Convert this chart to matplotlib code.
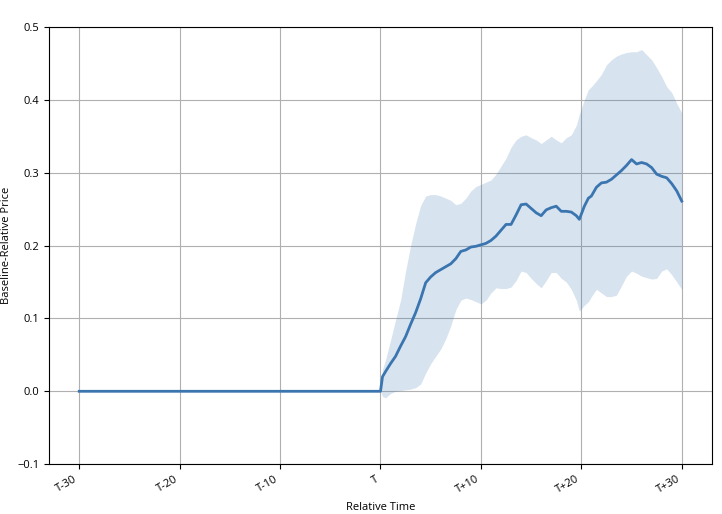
import numpy as np
import matplotlib.pyplot as plt

plt.rcParams['font.family'] = ['Open Sans', 'DejaVu Sans']

# ---------------- data ----------------
# flat baseline before the event
pre_t = [-30, -20, -10, 0]
pre_mean = [0.0, 0.0, 0.0, 0.0]

# after the event: mean and band
post_t = [0, 0.2, 0.5,
          1, 1.5, 2, 2.5, 3, 3.5, 4, 4.5, 5, 5.5,
          6, 6.5, 7, 7.5, 8, 8.5, 9, 9.5, 10, 10.5,
          11, 11.5, 12, 12.5, 13, 13.5, 14, 14.5, 15, 15.5,
          16, 16.5, 17, 17.5, 18, 18.5, 19, 19.5, 19.8, 20.3, 20.7,
          21, 21.5, 22, 22.5, 23, 23.5, 24, 24.5, 25, 25.5,
          26, 26.5, 27, 27.5, 28, 28.5, 29, 29.5, 30]
post_mean = [0.0, 0.02, 0.027,
             0.038, 0.048, 0.062, 0.075, 0.092, 0.108, 0.127, 0.149, 0.157, 0.163,
             0.167, 0.171, 0.175, 0.182, 0.192, 0.194, 0.198, 0.199, 0.201, 0.203,
             0.207, 0.213, 0.221, 0.229, 0.229, 0.242, 0.256, 0.257, 0.251, 0.245,
             0.241, 0.249, 0.252, 0.254, 0.247, 0.247, 0.246, 0.241, 0.236, 0.254, 0.265,
             0.268, 0.280, 0.286, 0.287, 0.291, 0.297, 0.303, 0.310, 0.318, 0.312,
             0.314, 0.312, 0.307, 0.298, 0.295, 0.293, 0.285, 0.275, 0.261]
post_upper = [0.0, 0.03, 0.043,
              0.07, 0.098, 0.125, 0.165, 0.20, 0.23, 0.255, 0.268, 0.27, 0.27,
              0.268, 0.265, 0.262, 0.256, 0.258, 0.265, 0.275, 0.281, 0.284, 0.287,
              0.29, 0.298, 0.309, 0.32, 0.335, 0.345, 0.35, 0.352, 0.348, 0.345,
              0.34, 0.345, 0.35, 0.345, 0.341, 0.348, 0.352, 0.365, 0.38, 0.40, 0.414,
              0.418, 0.426, 0.435, 0.448, 0.455, 0.46, 0.463, 0.465, 0.466, 0.466,
              0.469, 0.462, 0.455, 0.444, 0.432, 0.418, 0.41, 0.395, 0.382]
post_lower = [0.0, -0.007, -0.009,
              -0.003, 0.0, 0.001, 0.002, 0.003, 0.005, 0.01, 0.025, 0.038, 0.048,
              0.058, 0.072, 0.09, 0.112, 0.125, 0.128, 0.126, 0.123, 0.12, 0.125,
              0.135, 0.142, 0.141, 0.141, 0.143, 0.152, 0.165, 0.163, 0.155, 0.148,
              0.142, 0.152, 0.163, 0.163, 0.155, 0.15, 0.14, 0.125, 0.11, 0.118, 0.123,
              0.13, 0.14, 0.135, 0.13, 0.13, 0.132, 0.145, 0.158, 0.165, 0.162,
              0.158, 0.156, 0.154, 0.155, 0.165, 0.168, 0.16, 0.15, 0.14]

tick_pos = [-30, -20, -10, 0, 10, 20, 30]
tick_labels = ["T-30", "T-20", "T-10", "T", "T+10", "T+20", "T+30"]

# ---------------- plot ----------------
fig = plt.figure(figsize=(7.22, 5.14), dpi=100)
ax = fig.add_axes([0.068, 0.097, 0.918, 0.8505])

color = "#3a75b0"
ax.fill_between(post_t, post_lower, post_upper, color=color, alpha=0.2,
                linewidth=0)
ax.plot(pre_t + post_t[1:], pre_mean + post_mean[1:], color=color,
        linewidth=2)

ax.set_xlim(-33, 33)
ax.set_ylim(-0.1, 0.5)
ax.set_xticks(tick_pos)
ax.set_xticklabels(tick_labels, rotation=30, ha="right")
ax.set_yticks(np.arange(-0.1, 0.51, 0.1))
ax.grid(True, color="#b0b0b0", linewidth=0.8)
ax.set_axisbelow(True)
ax.tick_params(labelsize=8)
ax.set_xlabel("Relative Time", fontsize=8)
ax.set_ylabel("Baseline-Relative Price", fontsize=8)

fig.savefig("out.png", dpi=100)
